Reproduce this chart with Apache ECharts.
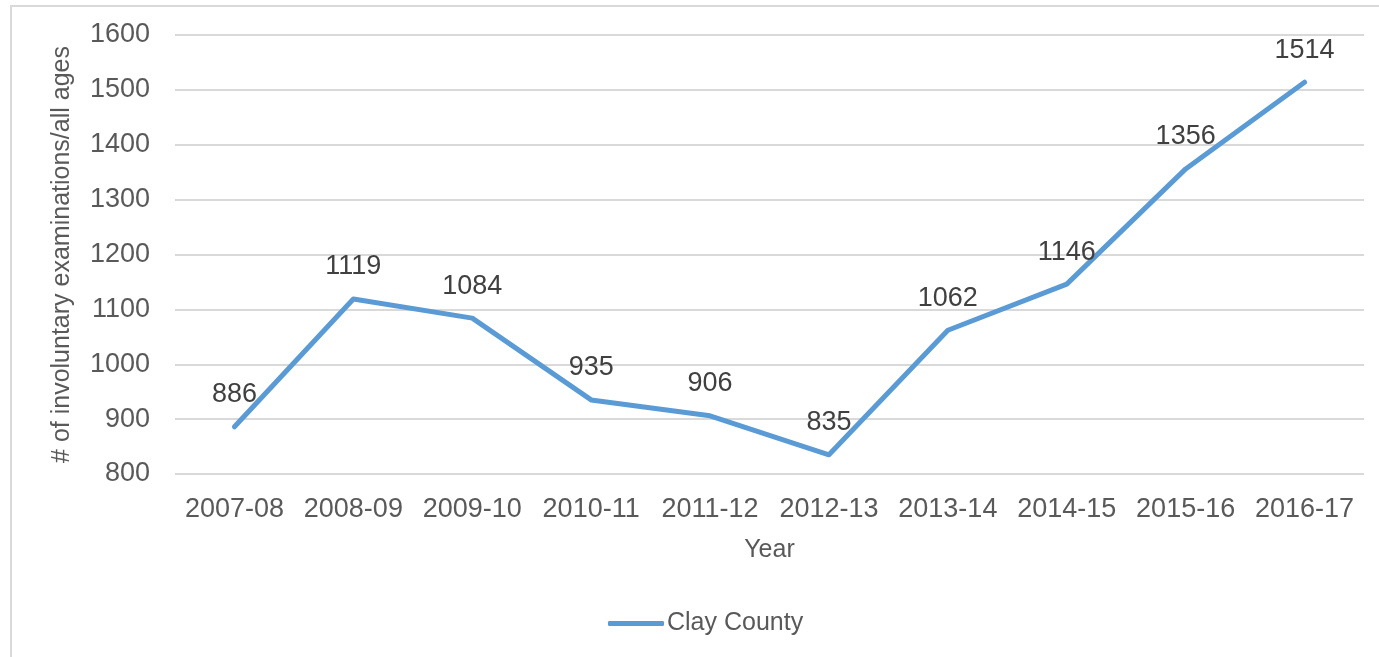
<!DOCTYPE html>
<html>
<head>
<meta charset="utf-8">
<script src="https://cdn.jsdelivr.net/npm/echarts@6/dist/echarts.min.js"></script>
<style>
  html, body { margin: 0; padding: 0; background: #fff; }
  #chart { width: 1379px; height: 657px; }
</style>
</head>
<body>
<div id="chart"></div>
<script>
// data
const years = ['2007-08', '2008-09', '2009-10', '2010-11', '2011-12', '2012-13', '2013-14', '2014-15', '2015-16', '2016-17'];
const clayCounty = [886, 1119, 1084, 935, 906, 835, 1062, 1146, 1356, 1514];
const seriesName = 'Clay County';

const font = '"Liberation Sans", Arial, sans-serif';
const blue = '#5b9bd5';
const chart = echarts.init(document.getElementById('chart'));
chart.setOption({
  animation: false,
  // light frame around the chart area
  graphic: [{
    type: 'rect',
    shape: { x: 11, y: 6, width: 1420, height: 700 },
    style: { fill: 'none', stroke: '#d9d9d9', lineWidth: 2 }
  }],
  grid: { left: 175, right: 15, top: 35, bottom: 183 },
  legend: {
    data: [seriesName],
    left: 603,
    top: 606,
    icon: 'roundRect',
    itemWidth: 56,
    itemHeight: 5,
    itemGap: 5,
    itemStyle: { color: blue, opacity: 1 },
    textStyle: { color: '#595959', fontSize: 25, fontFamily: font, padding: [0, 0, 0, -2] }
  },
  xAxis: {
    type: 'category',
    data: years,
    name: 'Year',
    nameLocation: 'middle',
    nameGap: 64,
    nameTextStyle: { color: '#595959', fontSize: 25, fontFamily: font },
    axisLine: { show: false },
    axisTick: { show: false },
    axisLabel: { color: '#595959', fontSize: 27, fontFamily: font, margin: 22, interval: 0 }
  },
  yAxis: {
    type: 'value',
    min: 800,
    max: 1600,
    interval: 100,
    name: '# of involuntary examinations/all ages',
    nameLocation: 'middle',
    nameGap: 100,
    nameTextStyle: { color: '#595959', fontSize: 25, fontFamily: font },
    axisLine: { show: false },
    axisTick: { show: false },
    axisLabel: {
      color: '#595959', fontSize: 27, fontFamily: font, margin: 25,
      formatter: function (v) { return String(v); }
    },
    splitLine: { lineStyle: { color: '#d9d9d9', width: 2 } }
  },
  series: [{
    name: seriesName,
    type: 'line',
    data: clayCounty,
    symbol: 'circle',
    symbolSize: 1,
    showSymbol: true,
    lineStyle: { color: blue, width: 5, cap: 'round', join: 'round' },
    itemStyle: { color: blue },
    label: {
      show: true,
      position: 'top',
      distance: 18,
      color: '#404040',
      fontSize: 27,
      fontFamily: font
    }
  }]
});
</script>
</body>
</html>
